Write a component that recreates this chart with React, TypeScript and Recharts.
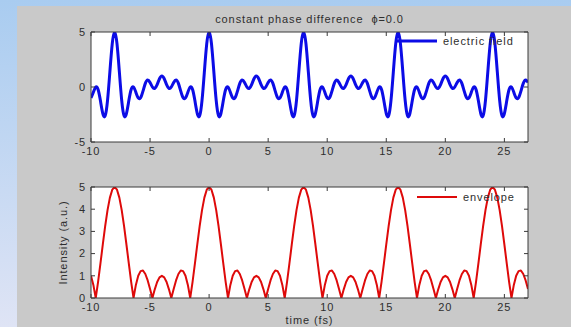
import { LineChart, Line, XAxis, YAxis, CartesianGrid, Legend } from 'recharts';

// sampling grid, 0.2 fs steps from -10 to 27
const time = Array.from({ length: 186 }, (_, i) => Math.round((-10 + i * 0.2) * 10) / 10);

const field = [
  -1.00, -0.48, 0.00, -0.23, -1.26, -2.41, -2.62, -1.22, 1.40, 3.95,
  5.00, 3.95, 1.40, -1.22, -2.62, -2.41, -1.26, -0.23, 0.00, -0.48, -1.00, -0.98, -0.38, 0.33, 0.64, 0.41, 0.00, -0.12, 0.22, 0.75,
  1.00, 0.75, 0.22, -0.12, 0.00, 0.41, 0.64, 0.33, -0.38, -0.98, -1.00, -0.48, 0.00, -0.23, -1.26, -2.41, -2.62, -1.22, 1.40, 3.95,
  5.00, 3.95, 1.40, -1.22, -2.62, -2.41, -1.26, -0.23, 0.00, -0.48, -1.00, -0.98, -0.38, 0.33, 0.64, 0.41, 0.00, -0.12, 0.22, 0.75,
  1.00, 0.75, 0.22, -0.12, 0.00, 0.41, 0.64, 0.33, -0.38, -0.98, -1.00, -0.48, 0.00, -0.23, -1.26, -2.41, -2.62, -1.22, 1.40, 3.95,
  5.00, 3.95, 1.40, -1.22, -2.62, -2.41, -1.26, -0.23, 0.00, -0.48, -1.00, -0.98, -0.38, 0.33, 0.64, 0.41, 0.00, -0.12, 0.22, 0.75,
  1.00, 0.75, 0.22, -0.12, 0.00, 0.41, 0.64, 0.33, -0.38, -0.98, -1.00, -0.48, 0.00, -0.23, -1.26, -2.41, -2.62, -1.22, 1.40, 3.95,
  5.00, 3.95, 1.40, -1.22, -2.62, -2.41, -1.26, -0.23, 0.00, -0.48, -1.00, -0.98, -0.38, 0.33, 0.64, 0.41, 0.00, -0.12, 0.22, 0.75,
  1.00, 0.75, 0.22, -0.12, 0.00, 0.41, 0.64, 0.33, -0.38, -0.98, -1.00, -0.48, 0.00, -0.23, -1.26, -2.41, -2.62, -1.22, 1.40, 3.95,
  5.00, 3.95, 1.40, -1.22, -2.62, -2.41, -1.26, -0.23, 0.00, -0.48, -1.00, -0.98, -0.38, 0.33, 0.64, 0.41,
];

const envelope = [
  1.00, 0.59, 0.00, 0.73, 1.56, 2.41, 3.24, 3.96, 4.52, 4.88,
  5.00, 4.88, 4.52, 3.96, 3.24, 2.41, 1.56, 0.73, 0.00, 0.59, 1.00, 1.21, 1.24, 1.08, 0.79, 0.41, 0.00, 0.39, 0.72, 0.93,
  1.00, 0.93, 0.72, 0.39, 0.00, 0.41, 0.79, 1.08, 1.24, 1.21, 1.00, 0.59, 0.00, 0.73, 1.56, 2.41, 3.24, 3.96, 4.52, 4.88,
  5.00, 4.88, 4.52, 3.96, 3.24, 2.41, 1.56, 0.73, 0.00, 0.59, 1.00, 1.21, 1.24, 1.08, 0.79, 0.41, 0.00, 0.39, 0.72, 0.93,
  1.00, 0.93, 0.72, 0.39, 0.00, 0.41, 0.79, 1.08, 1.24, 1.21, 1.00, 0.59, 0.00, 0.73, 1.56, 2.41, 3.24, 3.96, 4.52, 4.88,
  5.00, 4.88, 4.52, 3.96, 3.24, 2.41, 1.56, 0.73, 0.00, 0.59, 1.00, 1.21, 1.24, 1.08, 0.79, 0.41, 0.00, 0.39, 0.72, 0.93,
  1.00, 0.93, 0.72, 0.39, 0.00, 0.41, 0.79, 1.08, 1.24, 1.21, 1.00, 0.59, 0.00, 0.73, 1.56, 2.41, 3.24, 3.96, 4.52, 4.88,
  5.00, 4.88, 4.52, 3.96, 3.24, 2.41, 1.56, 0.73, 0.00, 0.59, 1.00, 1.21, 1.24, 1.08, 0.79, 0.41, 0.00, 0.39, 0.72, 0.93,
  1.00, 0.93, 0.72, 0.39, 0.00, 0.41, 0.79, 1.08, 1.24, 1.21, 1.00, 0.59, 0.00, 0.73, 1.56, 2.41, 3.24, 3.96, 4.52, 4.88,
  5.00, 4.88, 4.52, 3.96, 3.24, 2.41, 1.56, 0.73, 0.00, 0.59, 1.00, 1.21, 1.24, 1.08, 0.79, 0.41,
];

const xTicks = [-10, -5, 0, 5, 10, 15, 20, 25];
const fieldTicks = [-5, 0, 5];
const envTicks = [0, 1, 2, 3, 4, 5];

const rows = time.map((t, i) => ({ t, field: field[i], envelope: envelope[i] }));

const FONT = '"Liberation Sans", Arial, Helvetica, sans-serif';
const SPACING = '0.9px'; // matlab text comes out a bit stretched
const AXIS = '#3a3a3a';
const TEXT = '#2e2e2e';
const BLUE = '#0c0ce6';
const RED = '#de0a0a';
const TL = 4; // inward tick length

const LeftTick = (p: any) => (
  <g>
    <line x1={p.x} y1={p.y} x2={p.x + TL} y2={p.y} stroke={AXIS} />
    <text x={p.x - 5} y={p.y} dy="0.35em" textAnchor="end" fontFamily={FONT} fontSize={11} fill={TEXT} letterSpacing={SPACING}>{p.payload.value}</text>
  </g>
);
const RightTick = (p: any) => (
  <line x1={p.x} y1={p.y} x2={p.x - TL} y2={p.y} stroke={AXIS} />
);
const BottomTick = (p: any) => (
  <g>
    <line x1={p.x} y1={p.y} x2={p.x} y2={p.y - TL} stroke={AXIS} />
    <text x={p.x} y={p.y + 9} dy="0.35em" textAnchor="middle" fontFamily={FONT} fontSize={11} fill={TEXT} letterSpacing={SPACING}>{p.payload.value}</text>
  </g>
);
const TopTick = (p: any) => (
  <line x1={p.x} y1={p.y} x2={p.x} y2={p.y + TL} stroke={AXIS} />
);

const legendBox = (color: string, width: number, label: string) => () => (
  <div style={{ display: 'flex', alignItems: 'center', fontFamily: FONT, fontSize: 11, color: TEXT, letterSpacing: SPACING, whiteSpace: 'nowrap' }}>
    <svg width={40} height={6}>
      <line x1={0} y1={3} x2={40} y2={3} stroke={color} strokeWidth={width} />
    </svg>
    <span style={{ marginLeft: 6 }}>{label}</span>
  </div>
);

const axisProps = { tickLine: false, tickSize: 0, tickMargin: 0, interval: 0 as const, axisLine: { stroke: AXIS } };
const labelStyle = { fontFamily: FONT, fontSize: 11, fill: TEXT, style: { letterSpacing: SPACING } };

export default function App() {
  return (
    <div style={{ position: 'relative', width: 571, height: 327, overflow: 'hidden', background: 'linear-gradient(to bottom, #a9ccf0, #dfe4f5)' }}>
      <style>{'body{margin:0}'}</style>
      <div style={{ position: 'absolute', left: 17, top: 6, right: 0, bottom: 0, background: '#c9c9c9' }} />

      <div style={{ position: 'absolute', left: 0, top: 0 }}>
        <LineChart width={571} height={165} data={rows} margin={{ top: 22, right: 33, bottom: 0, left: 51 }}>
          <CartesianGrid fill="#ffffff" horizontal={false} vertical={false} />
          <XAxis dataKey="t" type="number" domain={[-10, 27]} ticks={xTicks} height={23} allowDataOverflow tick={BottomTick} {...axisProps} />
          <XAxis xAxisId="top" orientation="top" dataKey="t" type="number" domain={[-10, 27]} ticks={xTicks} height={10} allowDataOverflow tick={TopTick} {...axisProps}
            label={{ value: 'constant phase difference \u00a0\u03d5=0.0', position: 'top', offset: -1, ...labelStyle }} />
          <YAxis type="number" domain={[-5, 5]} ticks={fieldTicks} width={40} allowDataOverflow tick={LeftTick} {...axisProps} />
          <YAxis yAxisId="right" orientation="right" type="number" domain={[-5, 5]} ticks={fieldTicks} width={10} allowDataOverflow tick={RightTick} {...axisProps} />
          <Legend layout="vertical" align="center" verticalAlign="middle" content={legendBox(BLUE, 3, 'electric field')}
            wrapperStyle={{ left: 397, top: 35, width: 'auto', height: 'auto' }} />
          <Line dataKey="field" type="natural" stroke={BLUE} strokeWidth={3} dot={false} isAnimationActive={false} strokeLinejoin="round" />
        </LineChart>
      </div>

      <div style={{ position: 'absolute', left: 0, top: 165 }}>
        <LineChart width={571} height={162} data={rows} margin={{ top: 12, right: 33, bottom: 0, left: 51 }}>
          <CartesianGrid fill="#ffffff" horizontal={false} vertical={false} />
          <XAxis dataKey="t" type="number" domain={[-10, 27]} ticks={xTicks} height={29} allowDataOverflow tick={BottomTick} {...axisProps}
            label={{ value: 'time (fs)', position: 'insideBottom', offset: 3, ...labelStyle }} />
          <XAxis xAxisId="top" orientation="top" dataKey="t" type="number" domain={[-10, 27]} ticks={xTicks} height={10} allowDataOverflow tick={TopTick} {...axisProps} />
          <YAxis type="number" domain={[0, 5]} ticks={envTicks} width={40} allowDataOverflow tick={LeftTick} {...axisProps}
            label={{ value: 'Intensity (a.u.)', angle: -90, position: 'insideLeft', offset: 12, fontFamily: FONT, fontSize: 11, fill: TEXT, style: { textAnchor: 'middle', letterSpacing: SPACING } }} />
          <YAxis yAxisId="right" orientation="right" type="number" domain={[0, 5]} ticks={envTicks} width={10} allowDataOverflow tick={RightTick} {...axisProps} />
          <Legend layout="vertical" align="center" verticalAlign="middle" content={legendBox(RED, 2, 'envelope')}
            wrapperStyle={{ left: 417, top: 26, width: 'auto', height: 'auto' }} />
          <Line dataKey="envelope" type="linear" stroke={RED} strokeWidth={2} dot={false} isAnimationActive={false} strokeLinejoin="round" />
        </LineChart>
      </div>
    </div>
  );
}
